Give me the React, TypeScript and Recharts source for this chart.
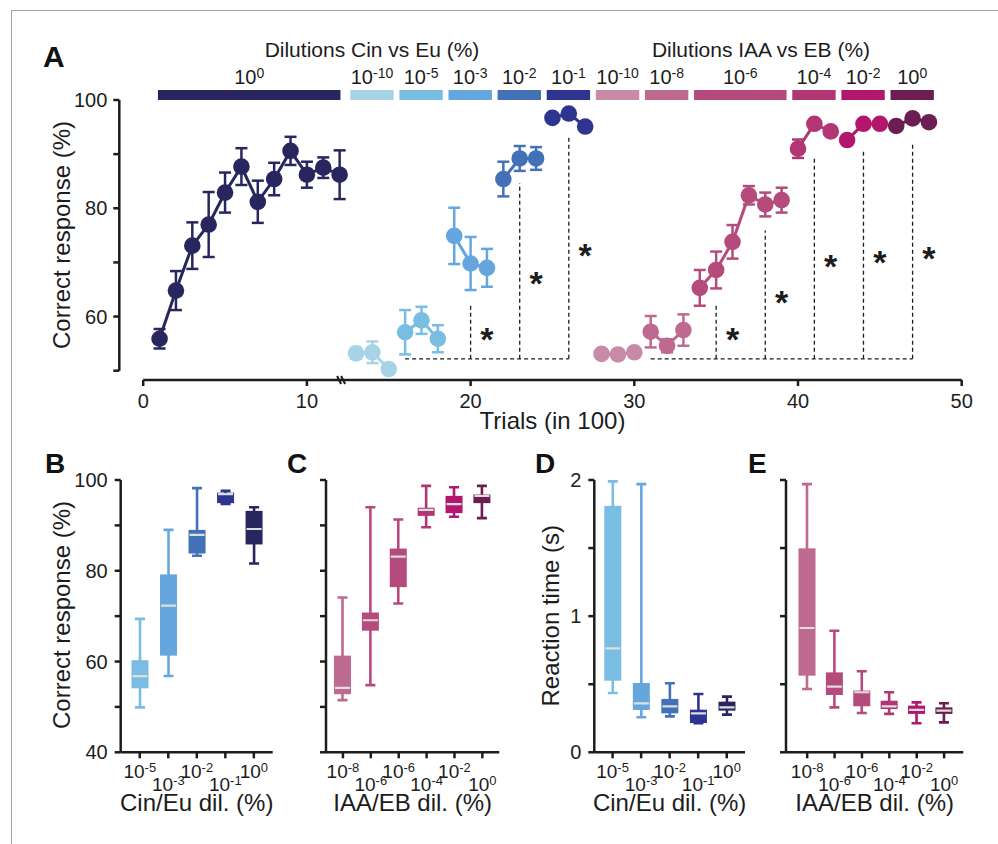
import React from 'react';
import {
  ComposedChart, Line, ErrorBar, Bar, XAxis, YAxis,
  ReferenceLine, ReferenceArea, ReferenceDot, Label,
} from 'recharts';

const FONT = '"Liberation Sans", Arial, Helvetica, sans-serif';
const INK = '#1c1c1c';
const MEDIAN = '#dedede';

const COLORS: Record<string, string> = {
  cin0: '#29265f', cin10: '#a7d3e7', cin5: '#7abde3', cin3: '#66a6de', cin2: '#4371b7', cin1: '#2d3590',
  iaa10: '#c98aa6', iaa8: '#bd6990', iaa6: '#b54b7c', iaa4: '#b23574', iaa2: '#b3166d', iaa0: '#6c1d51',
};

// panel A: correct response per block of 100 trials (mean, sem)
const cin0 = [
  { x: 1, y: 55.9, e: 1.8 }, { x: 2, y: 64.8, e: 3.6 }, { x: 3, y: 73.1, e: 4.3 }, { x: 4, y: 77.0, e: 6.0 },
  { x: 5, y: 82.9, e: 3.7 }, { x: 6, y: 87.7, e: 3.4 }, { x: 7, y: 81.2, e: 3.9 }, { x: 8, y: 85.4, e: 3.0 },
  { x: 9, y: 90.6, e: 2.6 }, { x: 10, y: 86.2, e: 2.4 }, { x: 11, y: 87.5, e: 1.9 }, { x: 12, y: 86.2, e: 4.5 },
];
const cin10 = [{ x: 13, y: 53.2, e: 1.0 }, { x: 14, y: 53.4, e: 2.0 }, { x: 15, y: 50.3, e: 0 }];
const cin5 = [{ x: 16, y: 57.1, e: 4.1 }, { x: 17, y: 59.3, e: 2.5 }, { x: 18, y: 55.9, e: 2.5 }];
const cin3 = [{ x: 19, y: 74.9, e: 5.2 }, { x: 20, y: 69.8, e: 4.9 }, { x: 21, y: 69.0, e: 3.5 }];
const cin2 = [{ x: 22, y: 85.4, e: 3.2 }, { x: 23, y: 89.2, e: 2.3 }, { x: 24, y: 89.2, e: 2.1 }];
const cin1 = [{ x: 25, y: 96.7, e: 0 }, { x: 26, y: 97.5, e: 0 }, { x: 27, y: 95.1, e: 0 }];
const iaa10 = [{ x: 28, y: 53.1, e: 0 }, { x: 29, y: 53.0, e: 0 }, { x: 30, y: 53.4, e: 0.6 }];
const iaa8 = [{ x: 31, y: 57.2, e: 2.9 }, { x: 32, y: 54.6, e: 1.2 }, { x: 33, y: 57.5, e: 2.9 }];
const iaa6 = [
  { x: 34, y: 65.3, e: 3.3 }, { x: 35, y: 68.6, e: 3.4 }, { x: 36, y: 73.8, e: 3.1 },
  { x: 37, y: 82.4, e: 1.7 }, { x: 38, y: 80.7, e: 2.2 }, { x: 39, y: 81.5, e: 2.3 },
];
const iaa4 = [{ x: 40, y: 91.0, e: 1.7 }, { x: 41, y: 95.6, e: 0.6 }, { x: 42, y: 94.2, e: 0.8 }];
const iaa2 = [{ x: 43, y: 92.6, e: 0.8 }, { x: 44, y: 95.6, e: 0 }, { x: 45, y: 95.6, e: 0 }];
const iaa0 = [{ x: 46, y: 95.2, e: 0 }, { x: 47, y: 96.6, e: 0 }, { x: 48, y: 95.9, e: 0 }];

const trialGroups = [
  { key: 'cin0', data: cin0 }, { key: 'cin10', data: cin10 }, { key: 'cin5', data: cin5 },
  { key: 'cin3', data: cin3 }, { key: 'cin2', data: cin2 }, { key: 'cin1', data: cin1 },
  { key: 'iaa10', data: iaa10 }, { key: 'iaa8', data: iaa8 }, { key: 'iaa6', data: iaa6 },
  { key: 'iaa4', data: iaa4 }, { key: 'iaa2', data: iaa2 }, { key: 'iaa0', data: iaa0 },
];

// dilution blocks shown above panel A (trial span)
const dilutionBands = [
  { key: 'cin0', exp: '0', from: 0.9, to: 12.05 },
  { key: 'cin10', exp: '-10', from: 12.65, to: 15.3 },
  { key: 'cin5', exp: '-5', from: 15.65, to: 18.3 },
  { key: 'cin3', exp: '-3', from: 18.65, to: 21.3 },
  { key: 'cin2', exp: '-2', from: 21.65, to: 24.3 },
  { key: 'cin1', exp: '-1', from: 24.65, to: 27.3 },
  { key: 'iaa10', exp: '-10', from: 27.65, to: 30.3 },
  { key: 'iaa8', exp: '-8', from: 30.65, to: 33.3 },
  { key: 'iaa6', exp: '-6', from: 33.65, to: 39.3 },
  { key: 'iaa4', exp: '-4', from: 39.65, to: 42.3 },
  { key: 'iaa2', exp: '-2', from: 42.65, to: 45.3 },
  { key: 'iaa0', exp: '0', from: 45.65, to: 48.3 },
];

// significance brackets (trial, top of dashed line, height of star)
const bracketBase = 52.2;
const baseSpans = [[16, 26], [31, 47]];
const cinStars = [{ x: 20, top: 62.5, star: 57.1 }, { x: 23, top: 84.6, star: 67.5 }, { x: 26, top: 93.3, star: 72.6 }];
const iaaStars = [
  { x: 35, top: 62.2, star: 57.1 }, { x: 38, top: 75.9, star: 63.9 }, { x: 41, top: 89.5, star: 70.7 },
  { x: 44, top: 90.9, star: 71.3 }, { x: 47, top: 92.3, star: 72.2 },
];

// panels B-E: box plots (min, q1, median, q3, max)
const cinDil = ['-5', '-3', '-2', '-1', '0'];
const iaaDil = ['-8', '-6', '-6', '-4', '-2', '0'];
const cinCorrect = [
  { min: 49.9, q1: 54.1, med: 56.8, q3: 60.3, max: 69.4 },
  { min: 56.8, q1: 61.3, med: 72.3, q3: 79.2, max: 89.0 },
  { min: 83.3, q1: 83.8, med: 87.9, q3: 89.0, max: 98.2 },
  { min: 94.7, q1: 94.9, med: 96.9, q3: 97.2, max: 97.6 },
  { min: 81.6, q1: 85.8, med: 89.2, q3: 93.2, max: 94.0 },
];
const iaaCorrect = [
  { min: 51.5, q1: 52.8, med: 54.2, q3: 61.3, max: 74.1 },
  { min: 54.8, q1: 66.8, med: 69.1, q3: 70.8, max: 94.0 },
  { min: 72.8, q1: 76.4, med: 83.1, q3: 84.9, max: 91.3 },
  { min: 89.6, q1: 92.1, med: 93.4, q3: 93.9, max: 98.7 },
  { min: 91.9, q1: 92.7, med: 94.7, q3: 96.5, max: 98.4 },
  { min: 91.6, q1: 94.9, med: 96.5, q3: 96.8, max: 98.7 },
];
const cinRT = [
  { min: 0.436, q1: 0.526, med: 0.764, q3: 1.81, max: 1.99 },
  { min: 0.257, q1: 0.311, med: 0.36, q3: 0.509, max: 1.97 },
  { min: 0.264, q1: 0.286, med: 0.338, q3: 0.392, max: 0.507 },
  { min: 0.213, q1: 0.215, med: 0.286, q3: 0.313, max: 0.428 },
  { min: 0.277, q1: 0.306, med: 0.33, q3: 0.372, max: 0.409 },
];
const iaaRT = [
  { min: 0.465, q1: 0.563, med: 0.913, q3: 1.498, max: 1.97 },
  { min: 0.33, q1: 0.421, med: 0.482, q3: 0.587, max: 0.893 },
  { min: 0.289, q1: 0.338, med: 0.441, q3: 0.453, max: 0.595 },
  { min: 0.282, q1: 0.318, med: 0.338, q3: 0.379, max: 0.441 },
  { min: 0.213, q1: 0.282, med: 0.311, q3: 0.343, max: 0.367 },
  { min: 0.22, q1: 0.282, med: 0.306, q3: 0.33, max: 0.36 },
];
const cinBoxColors = [COLORS.cin5, COLORS.cin3, COLORS.cin2, COLORS.cin1, COLORS.cin0];
const iaaBoxColors = [COLORS.iaa8, COLORS.iaa6, COLORS.iaa6, COLORS.iaa4, COLORS.iaa2, COLORS.iaa0];

const A_X_MIN = -1.46;
const A_Y_MIN = 48.28;

const SupText = ({ x, y, exp, size, supSize }: any) => (
  <text x={x} y={y} textAnchor="middle" fontFamily={FONT} fontSize={size} fill={INK}>
    10<tspan dy={-size * 0.32} fontSize={supSize}>{exp}</tspan>
  </text>
);

const HTitle = ({ viewBox, text, dx = 0, dy }: any) => (
  <text x={viewBox.x + viewBox.width / 2 + dx} y={viewBox.y + dy} textAnchor="middle"
    fontFamily={FONT} fontSize={24} fill={INK}>{text}</text>
);

const VTitle = ({ viewBox, text, dx, dy }: any) => {
  const cx = viewBox.x + dx;
  const cy = viewBox.y + dy;
  return (
    <text x={cx} y={cy} transform={`rotate(-90 ${cx} ${cy})`} textAnchor="middle" dominantBaseline="central"
      fontFamily={FONT} fontSize={24} fill={INK}>{text}</text>
  );
};

const Star = ({ cx, cy }: any) => (
  <text x={cx} y={cy + 19} textAnchor="middle" fontFamily={FONT} fontWeight="bold" fontSize={34} fill={INK}>*</text>
);

const AxisBreak = ({ cx, cy }: any) => (
  <g stroke={INK} strokeWidth={2}>
    <line x1={cx - 5} y1={cy - 4} x2={cx - 1} y2={cy + 4} />
    <line x1={cx - 1} y1={cy - 4} x2={cx + 3} y2={cy + 4} />
  </g>
);

const BoxShape = (props: any) => {
  const { x, y, width, height, payload, color } = props;
  if (!payload || height == null) return null;
  const top = Math.min(y, y + height);
  const bottom = Math.max(y, y + height);
  const py = (v: number) => top + ((payload.max - v) / (payload.max - payload.min)) * (bottom - top);
  const cx = x + width / 2;
  return (
    <g>
      <line x1={cx} x2={cx} y1={top} y2={bottom} stroke={color} strokeWidth={2.6} />
      <line x1={cx - 5} x2={cx + 5} y1={top} y2={top} stroke={color} strokeWidth={2.6} />
      <line x1={cx - 5} x2={cx + 5} y1={bottom} y2={bottom} stroke={color} strokeWidth={2.6} />
      <rect x={x} y={py(payload.q3)} width={width} height={py(payload.q1) - py(payload.q3)} fill={color} />
      <line x1={x + 1} x2={x + width - 1} y1={py(payload.med)} y2={py(payload.med)} stroke={MEDIAN} strokeWidth={2.2} />
    </g>
  );
};

function PanelA() {
  const axisStroke = { stroke: INK, strokeWidth: 2.5 };
  return (
    <ComposedChart width={998} height={440} margin={{ top: 100, right: 36.3, bottom: 0, left: 0 }}>
      <XAxis type="number" dataKey="x" domain={[A_X_MIN, 50]} ticks={[0, 10, 20, 30, 40, 50]} allowDataOverflow
        axisLine={false} tickLine={axisStroke} tickSize={6} tickMargin={8} height={60}
        tick={{ fill: INK, fontSize: 20, fontFamily: FONT }}>
        <Label content={(p: any) => <HTitle viewBox={p.viewBox} text="Trials (in 100)" dx={12} dy={49} />} />
      </XAxis>
      <YAxis type="number" domain={[A_Y_MIN, 100]} ticks={[50, 60, 70, 80, 90, 100]} allowDataOverflow
        width={119.3} axisLine={false} tickLine={axisStroke} tickSize={6} tickMargin={6}
        tick={{ fill: INK, fontSize: 20, fontFamily: FONT }}
        tickFormatter={(v: number) => (v % 20 === 0 ? String(v) : '')}>
        <Label content={(p: any) => <VTitle viewBox={p.viewBox} text="Correct response (%)" dx={61.7} dy={135} />} />
      </YAxis>

      <ReferenceLine segment={[{ x: A_X_MIN, y: 50 }, { x: A_X_MIN, y: 100 }]} ifOverflow="visible" {...axisStroke} />
      <ReferenceLine segment={[{ x: 0, y: A_Y_MIN }, { x: 50, y: A_Y_MIN }]} ifOverflow="visible" {...axisStroke} />
      <ReferenceDot x={12.15} y={A_Y_MIN} r={0} ifOverflow="visible" shape={(p: any) => <AxisBreak {...p} />} />

      {dilutionBands.map((b) => (
        <ReferenceArea key={b.key} x1={b.from} x2={b.to} y1={100} y2={101.85} ifOverflow="visible"
          fill={COLORS[b.key]} fillOpacity={1} stroke="none"
          label={(p: any) => (
            <SupText x={p.viewBox.x + p.viewBox.width / 2} y={p.viewBox.y - 6} exp={b.exp} size={20} supSize={14} />
          )} />
      ))}

      {baseSpans.map(([a, b]) => (
        <ReferenceLine key={`base-${a}`} segment={[{ x: a, y: bracketBase }, { x: b, y: bracketBase }]}
          ifOverflow="visible" stroke={INK} strokeWidth={1.3} strokeDasharray="4 3" />
      ))}
      {[...cinStars, ...iaaStars].map((s) => (
        <ReferenceLine key={`v-${s.x}`} segment={[{ x: s.x, y: bracketBase }, { x: s.x, y: s.top }]}
          ifOverflow="visible" stroke={INK} strokeWidth={1.3} strokeDasharray="4 3" />
      ))}
      {[...cinStars, ...iaaStars].map((s) => (
        <ReferenceDot key={`s-${s.x}`} x={s.x + 1} y={s.star} r={0} ifOverflow="visible"
          shape={(p: any) => <Star {...p} />} />
      ))}

      {trialGroups.map((g) => (
        <Line key={g.key} data={g.data} dataKey="y" type="linear" stroke={COLORS[g.key]} strokeWidth={3}
          dot={{ r: 8.3, fill: COLORS[g.key], stroke: 'none', strokeWidth: 0 }} activeDot={false}
          isAnimationActive={false}>
          <ErrorBar dataKey="e" width={6} strokeWidth={2.5} stroke={COLORS[g.key]} direction="y" />
        </Line>
      ))}
    </ComposedChart>
  );
}

const DilTick = ({ x, y, index, payload, labels }: any) => (
  <SupText x={x} y={y + (index % 2 === 1 ? 33 : 20)} exp={labels[payload.value]} size={19} supSize={13} />
);

function BoxPanel(props: any) {
  const {
    left, width, yWidth, right, pad, data, dil, colors, domain, ticks, showTick, xTitle, yTitle, yTitleDx, yTitleDy,
  } = props;
  const rows = data.map((d: any, i: number) => ({ ...d, cat: i, range: [d.min, d.max] }));
  const axisStroke = { stroke: INK, strokeWidth: 2.5 };
  return (
    <div style={{ position: 'absolute', left, top: 440 }}>
      <ComposedChart width={width} height={400} data={rows} margin={{ top: 40, right, bottom: 0, left: 0 }}>
        <XAxis dataKey="cat" type="category" height={87.7} padding={pad} interval={0}
          axisLine={axisStroke} tickLine={axisStroke} tickSize={6} tickMargin={0}
          tick={(p: any) => <DilTick {...p} labels={dil} />}>
          <Label content={(p: any) => <HTitle viewBox={p.viewBox} text={xTitle} dy={58.7} />} />
        </XAxis>
        <YAxis type="number" domain={domain} ticks={ticks} allowDataOverflow width={yWidth}
          axisLine={axisStroke} tickLine={axisStroke} tickSize={6} tickMargin={7}
          tick={{ fill: INK, fontSize: 20, fontFamily: FONT }}
          tickFormatter={(v: number) => (showTick(v) ? String(v) : '')}>
          {yTitle ? (
            <Label content={(p: any) => <VTitle viewBox={p.viewBox} text={yTitle} dx={yTitleDx} dy={yTitleDy} />} />
          ) : null}
        </YAxis>
        <Bar dataKey="range" barSize={17} isAnimationActive={false}
          shape={(p: any) => <BoxShape {...p} color={colors[p.index]} />} />
      </ComposedChart>
    </div>
  );
}

export default function App() {
  const pctTicks = [40, 50, 60, 70, 80, 90, 100];
  const rtTicks = [0, 0.5, 1, 1.5, 2];
  const letter = { fontFamily: FONT, fontWeight: 'bold' as const, fill: '#111' };
  return (
    <div style={{
      position: 'absolute', left: 0, top: 0, width: 998, height: 844, overflow: 'hidden',
      background: '#fff', fontFamily: FONT,
    }}>
      <div style={{ position: 'absolute', left: 11, top: 10, width: 1200, height: 1000, border: '1px solid #a3a3a3' }} />
      <div style={{ position: 'absolute', left: 0, top: 0 }}>
        <PanelA />
      </div>
      <BoxPanel left={0} width={290} yWidth={120.7} right={17.3} pad={{ left: 4.8, right: 4.6 }}
        data={cinCorrect} dil={cinDil} colors={cinBoxColors} domain={[40, 100]} ticks={pctTicks}
        showTick={(v: number) => v % 20 === 0} xTitle="Cin/Eu dil. (%)"
        yTitle="Correct response (%)" yTitleDx={61.7} yTitleDy={135} />
      <BoxPanel left={290} width={220} yWidth={36} right={10.7} pad={{ left: 3, right: 3 }}
        data={iaaCorrect} dil={iaaDil} colors={iaaBoxColors} domain={[40, 100]} ticks={pctTicks}
        showTick={() => false} xTitle="IAA/EB dil. (%)" />
      <BoxPanel left={510} width={250} yWidth={84.3} right={15} pad={{ left: 4, right: 4 }}
        data={cinRT} dil={cinDil} colors={cinBoxColors} domain={[0, 2]} ticks={rtTicks}
        showTick={(v: number) => Number.isInteger(v)} xTitle="Cin/Eu dil. (%)"
        yTitle="Reaction time (s)" yTitleDx={41} yTitleDy={135.8} />
      <BoxPanel left={760} width={230} yWidth={26} right={26.7} pad={{ left: 7.5, right: 5.5 }}
        data={iaaRT} dil={iaaDil} colors={iaaBoxColors} domain={[0, 2]} ticks={rtTicks}
        showTick={() => false} xTitle="IAA/EB dil. (%)" />
      <svg width={998} height={844} style={{ position: 'absolute', left: 0, top: 0, pointerEvents: 'none' }}>
        <text x={43} y={67} fontSize={30} {...letter}>A</text>
        <text x={45} y={473} fontSize={28} {...letter}>B</text>
        <text x={287} y={473} fontSize={28} {...letter}>C</text>
        <text x={535} y={473} fontSize={28} {...letter}>D</text>
        <text x={748} y={473} fontSize={28} {...letter}>E</text>
        <text x={372} y={57} textAnchor="middle" fontFamily={FONT} fontSize={21} fill={INK}>Dilutions Cin vs Eu (%)</text>
        <text x={761} y={57} textAnchor="middle" fontFamily={FONT} fontSize={21} fill={INK}>Dilutions IAA vs EB (%)</text>
      </svg>
    </div>
  );
}
